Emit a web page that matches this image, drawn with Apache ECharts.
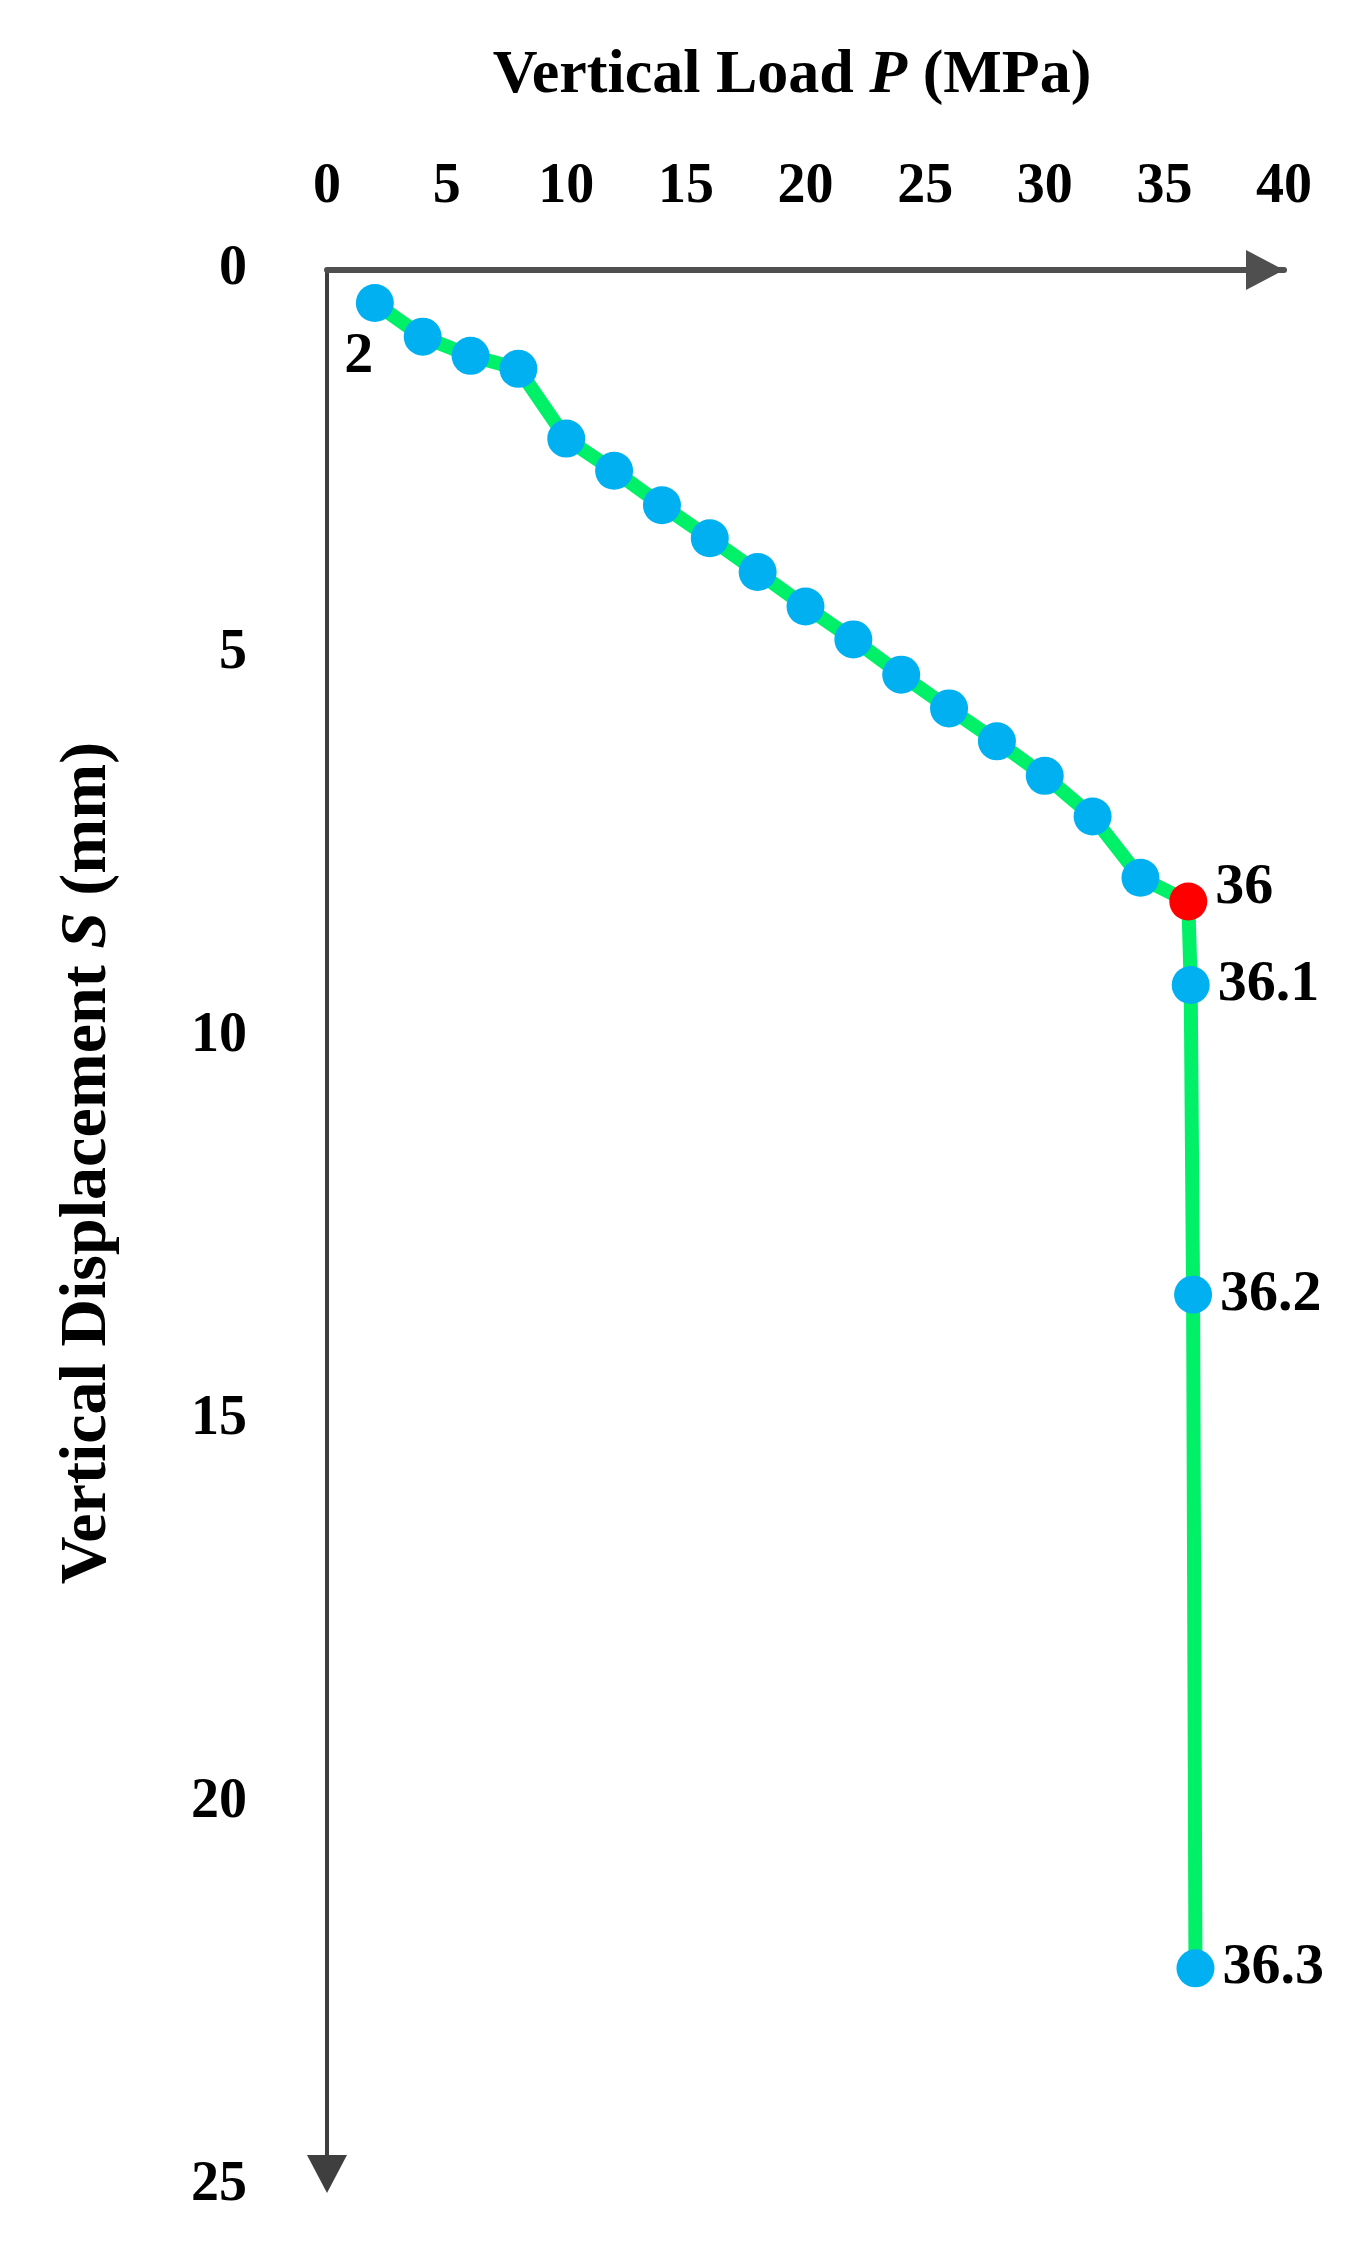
<!DOCTYPE html>
<html>
<head>
<meta charset="utf-8">
<title>Vertical Load vs Vertical Displacement</title>
<script src="https://cdn.jsdelivr.net/npm/echarts@6/dist/echarts.min.js"></script>
<style>
  html, body { margin: 0; padding: 0; background: #fff; }
  #chart { width: 1368px; height: 2251px; }
</style>
</head>
<body>
<div id="chart"></div>
<script>
// load P (MPa) and settlement S (mm)
const loads = [2, 4, 6, 8, 10, 12, 14, 16, 18, 20, 22, 24, 26, 28, 30, 32, 34, 36, 36.1, 36.2, 36.3]
const displacements = [0.43, 0.87, 1.12, 1.29, 2.20, 2.62, 3.07, 3.50, 3.94, 4.39, 4.82, 5.28, 5.72, 6.15, 6.60, 7.13, 7.93, 8.24, 9.33, 13.37, 22.16]
const labelledLoads = [2, 36, 36.1, 36.2, 36.3]
const peakLoad = 36

const loadMin = 0
const loadMax = 40
const loadStep = 5
const dispMin = 0
const dispMax = 25
const dispStep = 5

const serif = "'Liberation Serif', 'DejaVu Serif', serif"

const points = loads.map((p, i) => {
  const item = { value: [p, displacements[i]] }
  if (p === peakLoad) item.itemStyle = { color: '#ff0000' }
  if (labelledLoads.includes(p)) {
    item.label = i === 0
      ? { show: true, position: 'bottom', distance: 6, offset: [-16, 0] }
      : { show: true, position: 'right', distance: 8, offset: p === peakLoad ? [0, -13] : [0, 0] }
  }
  return item
})

const chart = echarts.init(document.getElementById('chart'))
chart.setOption({
  backgroundColor: '#fff',
  animation: false,
  grid: {
    left: 327,
    top: 270,
    right: 84,
    bottom: 65,
    outerBoundsMode: 'none'
  },
  xAxis: {
    type: 'value',
    position: 'top',
    min: loadMin,
    max: loadMax,
    interval: loadStep,
    axisLine: {
      onZero: false,
      symbol: ['none', 'triangle'],
      symbolSize: [40, 38],
      symbolOffset: [0, -19],
      lineStyle: { color: '#4f4f4f', width: 6 }
    },
    axisTick: { show: false },
    splitLine: { show: false },
    axisLabel: {
      margin: 54,
      color: '#000',
      fontFamily: serif,
      fontWeight: 'bold',
      fontSize: 56
    }
  },
  yAxis: {
    type: 'value',
    inverse: true,
    min: dispMin,
    max: dispMax,
    interval: dispStep,
    axisLine: {
      show: true,
      onZero: false,
      // inverse axis: the start end sits at the bottom
      symbol: ['triangle', 'none'],
      symbolSize: [40, 38],
      symbolOffset: [12, 0],
      lineStyle: { color: '#3f3f3f', width: 4 }
    },
    axisTick: { show: false },
    splitLine: { show: false },
    axisLabel: {
      margin: 80,
      color: '#000',
      fontFamily: serif,
      fontWeight: 'bold',
      fontSize: 56
    }
  },
  graphic: [
    {
      type: 'text',
      x: 792,
      y: 76,
      style: {
        text: '{a|Vertical Load }{p|P}{a| (MPa)}',
        align: 'center',
        verticalAlign: 'middle',
        rich: {
          a: { fontFamily: serif, fontWeight: 'bold', fontSize: 62, fill: '#000' },
          p: { fontFamily: serif, fontWeight: 'bold', fontStyle: 'italic', fontSize: 62, fill: '#000' }
        }
      }
    },
    {
      type: 'text',
      x: 88,
      y: 1163,
      rotation: Math.PI / 2,
      style: {
        text: '{a|Vertical Displacement }{s|S}{a| (mm)}',
        align: 'center',
        verticalAlign: 'middle',
        rich: {
          a: { fontFamily: serif, fontWeight: 'bold', fontSize: 66, fill: '#000' },
          s: { fontFamily: serif, fontWeight: 'bold', fontStyle: 'italic', fontSize: 66, fill: '#000' }
        }
      }
    }
  ],
  series: [
    {
      type: 'line',
      data: points,
      symbol: 'circle',
      symbolSize: 38,
      lineStyle: { color: '#00f068', width: 14, join: 'round' },
      itemStyle: { color: '#00b0f0' },
      label: {
        show: false,
        formatter: (p) => p.value[0],
        color: '#000',
        fontFamily: serif,
        fontWeight: 'bold',
        fontSize: 58
      },
      emphasis: { disabled: true }
    }
  ]
})
</script>
</body>
</html>
